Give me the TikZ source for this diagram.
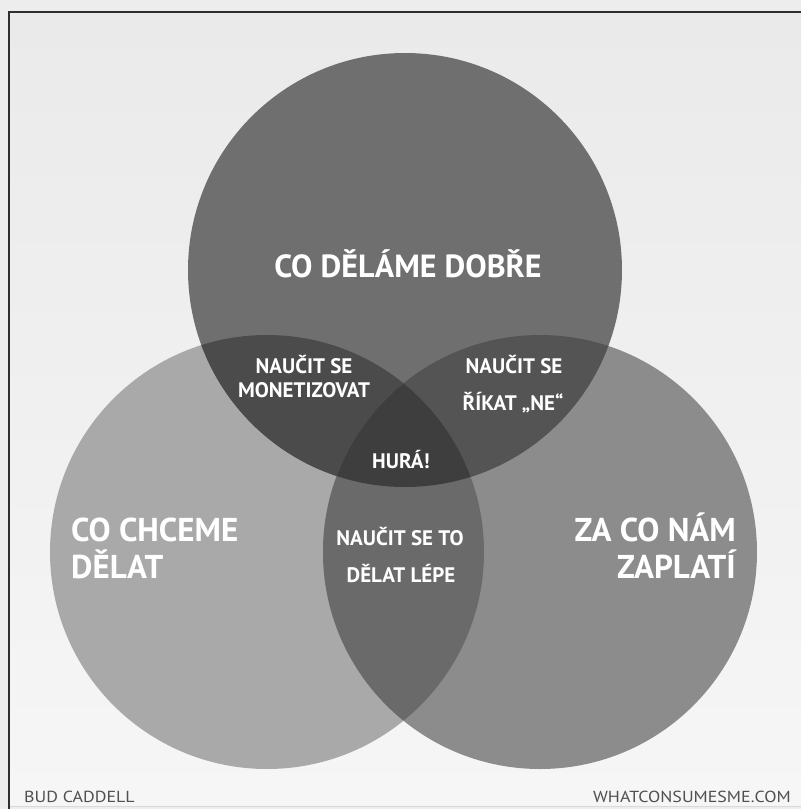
\documentclass[tikz,border=0pt]{standalone}
\usepackage{fontspec}
\setmainfont{PT Sans}
\begin{document}
\begin{tikzpicture}[x=1pt,y=-1pt]
\definecolor{outerbg}{HTML}{EDEDED}
\definecolor{bgtop}{HTML}{EAEAEA}
\definecolor{bgbot}{HTML}{F6F6F6}
\definecolor{frameline}{HTML}{2E2E2E}
\definecolor{cT}{HTML}{6F6F6F}
\definecolor{cL}{HTML}{A9A9A9}
\definecolor{cR}{HTML}{8C8C8C}
\definecolor{cTL}{HTML}{4B4B4B}
\definecolor{cTR}{HTML}{545454}
\definecolor{cLR}{HTML}{6A6A6A}
\definecolor{cTLR}{HTML}{3E3E3E}
\definecolor{foot}{HTML}{505050}
\tikzset{
  biglabel/.style={anchor=base,text=white,inner sep=0pt,font=\bfseries\fontsize{32}{32}\selectfont},
  sidelabel/.style={text=white,inner sep=0pt,font=\bfseries\fontsize{33}{33}\selectfont},
  smalllabel/.style={anchor=base,text=white,inner sep=0pt,font=\bfseries\fontsize{21}{21}\selectfont},
  footlabel/.style={text=foot,inner sep=0pt,xscale=1.12,font=\fontsize{16}{16}\selectfont}
}
\useasboundingbox (0,0) rectangle (801,809);
\fill[outerbg] (0,0) rectangle (801,809);
\shade[top color=bgtop,bottom color=bgbot] (9,12) rectangle (801,806);
\draw[black!15,line width=1pt] (9,806) -- (801,806);
\draw[frameline,line width=2.2pt] (8,12) -- (801,12);
\draw[frameline,line width=2pt] (9,12) -- (9,809);
% circle centres
\coordinate (T) at (405,270);
\coordinate (L) at (267,552);
\coordinate (R) at (540,552);
\def\rad{217pt}
\fill[cL] (L) circle (\rad);
\fill[cR] (R) circle (\rad);
\fill[cT] (T) circle (\rad);
\begin{scope}
  \clip (T) circle (\rad);
  \fill[cTL] (L) circle (\rad);
  \fill[cTR] (R) circle (\rad);
\end{scope}
\begin{scope}
  \clip (L) circle (\rad);
  \fill[cLR] (R) circle (\rad);
  \clip (R) circle (\rad);
  \fill[cTLR] (T) circle (\rad);
\end{scope}
% labels
\node[biglabel] (top) at (408,277) {CO DĚLÁME DOBŘE};
\node[sidelabel,anchor=base west] (lefta) at (71,541) {CO CHCEME};
\node[sidelabel,anchor=base west] (leftb) at (71,578) {DĚLAT};
\node[sidelabel,anchor=base east] (righta) at (736,541) {ZA CO NÁM};
\node[sidelabel,anchor=base east] (rightb) at (736,578) {ZAPLATÍ};
\node[smalllabel] (tla) at (304,373) {NAUČIT SE};
\node[smalllabel] (tlb) at (304,397) {MONETIZOVAT};
\node[smalllabel] (tra) at (514,373) {NAUČIT SE};
\node[smalllabel] (trb) at (513,410) {ŘÍKAT „NE“};
\node[smalllabel] (mid) at (401,468) {HURÁ!};
\node[smalllabel] (lra) at (400,545) {NAUČIT SE TO};
\node[smalllabel] (lrb) at (401,582) {DĚLAT LÉPE};
\node[footlabel,anchor=base west] (author) at (24,802) {BUD CADDELL};
\node[footlabel,anchor=base east] (site) at (791,802) {WHATCONSUMESME.COM};
\end{tikzpicture}
\end{document}
